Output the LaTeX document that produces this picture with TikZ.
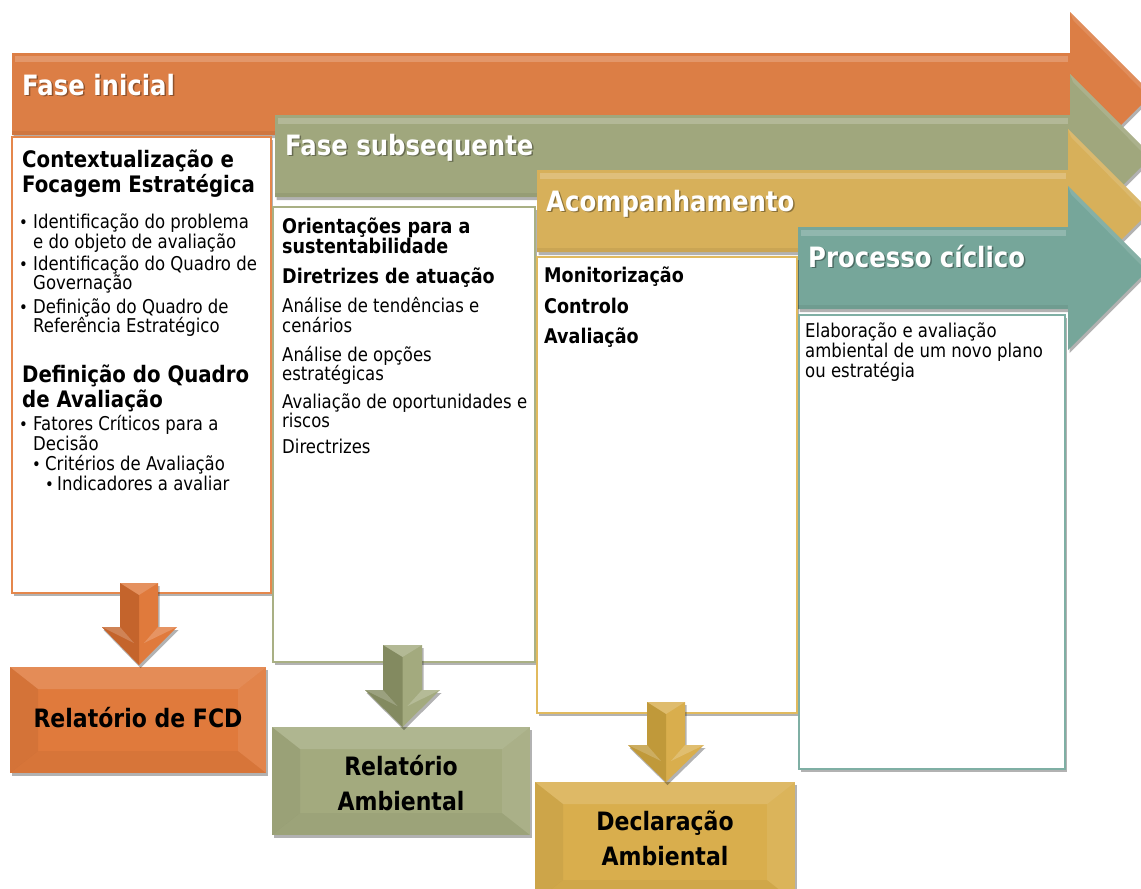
\documentclass[tikz,border=0pt]{standalone}
\usepackage{fontspec}
\setmainfont{DejaVu Sans}[FakeStretch=0.87]
\usetikzlibrary{shadows,calc}
\definecolor{orA}{HTML}{DC7E45}
\definecolor{grA}{HTML}{A0A77D}
\definecolor{yeA}{HTML}{D7B05A}
\definecolor{teA}{HTML}{76A69A}
\definecolor{orL}{HTML}{E5874C}
\definecolor{grL}{HTML}{A9B084}
\definecolor{yeL}{HTML}{E1BA5E}
\definecolor{teL}{HTML}{7FAFA4}
\definecolor{orB}{HTML}{E07A3C}
\definecolor{grB}{HTML}{A3AA7E}
\definecolor{yeB}{HTML}{D9AE4D}
\definecolor{orD}{HTML}{C4642C}
\definecolor{grD}{HTML}{838A60}
\definecolor{yeD}{HTML}{C0993A}
\tikzset{
 softshadow/.style={drop shadow={shadow xshift=1.5pt, shadow yshift=-3pt, opacity=.3, fill=black}},
 panel/.style={draw=#1, line width=1.5pt, fill=white, anchor=north west, inner sep=0pt, outer sep=0pt, softshadow},
 title/.style={anchor=base west, inner sep=0pt, text=white, font=\bfseries\fontsize{28}{32}\selectfont},
 titleshadow/.style={title, text=black, opacity=.35},
 head/.style={anchor=base west, inner sep=0pt, font=\bfseries\fontsize{22.7}{25}\selectfont},
 subhead/.style={anchor=base west, inner sep=0pt, font=\bfseries\fontsize{20.2}{20}\selectfont},
 body/.style={anchor=base west, inner sep=0pt, font=\fontsize{19}{20}\selectfont},
 dot/.style={anchor=base west, inner sep=0pt, font=\fontsize{17}{17}\selectfont},
 outbox/.style={fill=#1, inner sep=0pt, outer sep=0pt, softshadow},
 boxtext/.style={align=center, inner sep=0pt, font=\bfseries\fontsize{25.3}{35}\selectfont},
}
% big phase arrow: #1 left x, #2 body top, #3 head base x, #4 colour
\newcommand\phasearrow[4]{%
 \fill[fill=#4, softshadow] (#1,#2) -- (#3,#2) -- (#3,#2-41) -- (#3+82,#2+41) -- (#3,#2+123) -- (#3,#2+82) -- (#1,#2+82) -- cycle;
 \fill[white,opacity=.2] (#1+3,#2+3) -- (#3-2,#2+3) -- (#3-2,#2+9) -- (#1+3,#2+9) -- cycle;
 \fill[white,opacity=.12] (#3,#2-41) -- (#3+82,#2+41) -- (#3+76,#2+41) -- (#3+3,#2-33) -- cycle;
 \fill[black,opacity=.06] (#1,#2+82) -- (#3,#2+82) -- (#3,#2+78) -- (#1,#2+78) -- cycle;
}
% down arrow: #1 sl #2 sr #3 shaft top #4 head top #5 hl #6 hr #7 tip #8 colour #9 dark
\newcommand\outarrow[9]{%
 \fill[fill=#8, softshadow] (#1,#3) -- (#2,#3) -- (#2,#4) -- (#6,#4) -- ({(#1+#2)/2},#7) -- (#5,#4) -- (#1,#4) -- cycle;
 \fill[#9] (#1,#3) -- ({(#1+#2)/2},#3+12) -- ({(#1+#2)/2},#7) -- (#5,#4) -- (#1,#4) -- cycle;
 \fill[white,opacity=.18] (#1,#3) -- (#2,#3) -- ({(#1+#2)/2},#3+12) -- cycle;
 \fill[white,opacity=.2] (#5,#4) -- (#1,#4) -- ({(#1+#2)/2-5},#4+16) -- cycle;
 \fill[white,opacity=.2] (#6,#4) -- (#2,#4) -- ({(#1+#2)/2+5},#4+16) -- cycle;
}
\newcommand\bevel[1]{%
 \fill[white,opacity=.14] (#1.north west) -- (#1.north east) -- ($(#1.north east)+(-28,22)$) -- ($(#1.north west)+(28,22)$) -- cycle;
 \fill[black,opacity=.05] (#1.north west) -- ($(#1.north west)+(28,22)$) -- ($(#1.south west)+(28,-22)$) -- (#1.south west) -- cycle;
 \fill[white,opacity=.08] (#1.north east) -- ($(#1.north east)+(-28,22)$) -- ($(#1.south east)+(-28,-22)$) -- (#1.south east) -- cycle;
 \fill[black,opacity=.04] (#1.south west) -- ($(#1.south west)+(28,-22)$) -- ($(#1.south east)+(-28,-22)$) -- (#1.south east) -- cycle;
}
\newcommand\phasetitle[4]{%
 \node[titleshadow] (#1s) at (#2+1.5,#3+1.5) {#4};
 \node[title] (#1) at (#2,#3) {#4};
}
\begin{document}
\begin{tikzpicture}[x=1pt,y=-1pt]
\useasboundingbox (0,0) rectangle (1141,889);
\clip (0,0) rectangle (1141,889);
\fill[white] (0,0) rectangle (1141,889);

% phase arrows
\phasearrow{12}{53}{1070}{orA}
\phasearrow{275}{115}{1070}{grA}
\phasearrow{537}{170}{1068}{yeA}
\phasearrow{798}{227}{1068}{teA}
\phasetitle{t1}{22}{95}{Fase inicial}
\phasetitle{t2}{285}{155}{Fase subsequente}
\phasetitle{t3}{546}{211}{Acompanhamento}
\phasetitle{t4}{808}{267}{Processo cíclico}

% panels
\node[panel=orL, minimum width=259pt, minimum height=456pt] (p1) at (12,137) {};
\node[panel=grL, minimum width=262pt, minimum height=455pt] (p2) at (273,207) {};
\node[panel=yeL, minimum width=260pt, minimum height=456pt] (p3) at (537,257) {};
\node[panel=teL, minimum width=266pt, minimum height=454pt] (p4) at (799,315) {};

% panel 1 text
\node[head] (h1a) at (22,167) {Contextualização e};
\node[head] (h1b) at (22,192) {Focagem Estratégica};
\node[dot] (d1) at (19,228) {•};
\node[body] (l1) at (33,228) {Identificação do problema};
\node[body] (l2) at (33,248) {e do objeto de avaliação};
\node[dot] (d2) at (19,270) {•};
\node[body] (l3) at (33,270) {Identificação do Quadro de};
\node[body] (l4) at (33,289) {Governação};
\node[dot] (d3) at (19,313) {•};
\node[body] (l5) at (33,313) {Definição do Quadro de};
\node[body] (l6) at (33,332) {Referência Estratégico};
\node[head] (h1c) at (22,382) {Definição do Quadro};
\node[head] (h1d) at (22,407) {de Avaliação};
\node[dot] (d4) at (19,430) {•};
\node[body] (l7) at (33,430) {Fatores Críticos para a};
\node[body] (l8) at (33,450) {Decisão};
\node[dot] (d5) at (32,470) {•};
\node[body] (l9) at (45,470) {Critérios de Avaliação};
\node[dot] (d6) at (45,490) {•};
\node[body] (l10) at (57,490) {Indicadores a avaliar};

% panel 2 text
\node[subhead] (s1) at (282,233) {Orientações para a};
\node[subhead] (s2) at (282,253) {sustentabilidade};
\node[subhead] (s3) at (282,283) {Diretrizes de atuação};
\node[body] (m1) at (282,312) {Análise de tendências e};
\node[body] (m2) at (282,332) {cenários};
\node[body] (m3) at (282,361) {Análise de opções};
\node[body] (m4) at (282,380) {estratégicas};
\node[body] (m5) at (282,408) {Avaliação de oportunidades e};
\node[body] (m6) at (282,427) {riscos};
\node[body] (m7) at (282,453) {Directrizes};

% panel 3 text
\node[subhead] (c1) at (544,282) {Monitorização};
\node[subhead] (c2) at (544,313) {Controlo};
\node[subhead] (c3) at (544,343) {Avaliação};

% panel 4 text
\node[body] (e1) at (805,337) {Elaboração e avaliação};
\node[body] (e2) at (805,357) {ambiental de um novo plano};
\node[body] (e3) at (805,377) {ou estratégia};

% output boxes
\node[outbox=orB, minimum width=256pt, minimum height=106pt] (b1) at (138,720) {};
\node[outbox=grB, minimum width=258pt, minimum height=108pt] (b2) at (401,781) {};
\node[outbox=yeB, minimum width=260pt, minimum height=120pt] (b3) at (665,842) {};
\bevel{b1}
\bevel{b2}
\bevel{b3}
\node[boxtext] (b1t) at (138,718) {Relatório de FCD};
\node[boxtext] (b2t) at (401,783) {Relatório\\Ambiental};
\node[boxtext] (b3t) at (665,838) {Declaração\\Ambiental};

% down arrows
\outarrow{120}{158}{583}{627}{102}{177}{665}{orB}{orD}
\outarrow{383}{422}{645}{690}{365}{440}{727}{grB}{grD}
\outarrow{647}{685}{702}{745}{628}{704}{782}{yeB}{yeD}
\end{tikzpicture}
\end{document}
